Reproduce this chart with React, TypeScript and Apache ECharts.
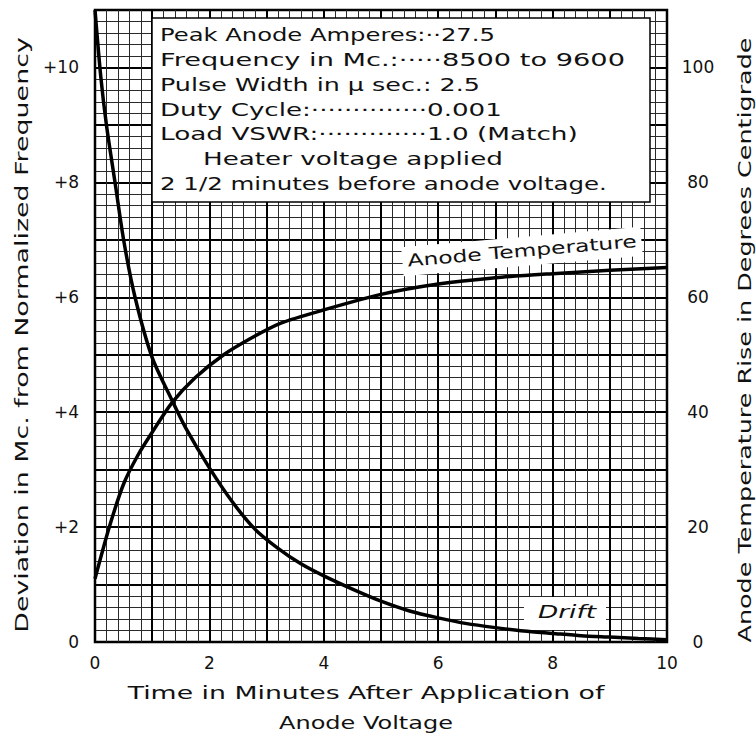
import React, { useEffect, useRef } from 'react';
import * as echarts from 'echarts';

// ---- data ----
const driftTime = [0, 0.1, 0.2, 0.35, 0.5, 0.7, 1.0, 1.35, 1.6, 2.0, 2.4, 2.8, 3.2, 3.6, 4.0, 4.5, 5.0, 5.5, 6.0, 6.5, 7.0, 7.5, 8.0, 8.5, 9.0, 9.5, 10];
const driftMc = [11.0, 9.85, 9.0, 8.0, 7.0, 6.0, 4.95, 4.2, 3.7, 3.03, 2.44, 1.96, 1.63, 1.36, 1.15, 0.92, 0.71, 0.54, 0.42, 0.32, 0.25, 0.19, 0.15, 0.11, 0.085, 0.06, 0.04];

const tempTime = [0, 0.25, 0.5, 0.75, 1.0, 1.35, 1.75, 2.25, 2.75, 3.25, 4.0, 5.0, 6.0, 7.0, 8.0, 9.0, 10];
const tempRise = [11, 20, 27.5, 32.5, 36.5, 41.7, 46, 50, 53, 55.5, 57.8, 60.5, 62.3, 63.4, 64.1, 64.7, 65.2];

const infoLines = [
  'Peak Anode Amperes:··27.5',
  'Frequency in Mc.:·····8500 to 9600',
  'Pulse Width in μ sec.: 2.5',
  'Duty Cycle:··············0.001',
  'Load VSWR:·············1.0 (Match)',
  'Heater voltage applied',
  '2 1/2 minutes before anode voltage.',
];

const leftAxisName = 'Deviation in Mc. from Normalized Frequency';
const rightAxisName = 'Anode Temperature Rise in Degrees Centigrade';
const xAxisNameLines = ['Time in Minutes After Application of', 'Anode Voltage'];
const tempLabel = 'Anode Temperature';
const driftLabel = 'Drift';

const FONT = '"DejaVu Sans", "Liberation Sans", sans-serif';
const INK = '#111';

let measureCtx: CanvasRenderingContext2D | null = null;
function measure(text: string, size: number, style = 'normal') {
  if (!measureCtx) measureCtx = document.createElement('canvas').getContext('2d');
  measureCtx!.font = `${style} normal ${size}px "DejaVu Sans"`;
  return measureCtx!.measureText(text).width;
}

function fitText(text: string, x: number, y: number, width: number, size: number, align: 'left' | 'center', rotation = 0, fontStyle = 'normal') {
  const s = width / measure(text, size, fontStyle);
  return {
    type: 'text',
    x,
    y,
    rotation,
    scaleX: s,
    z: 20,
    style: {
      text,
      fontFamily: FONT,
      fontSize: size,
      fontStyle,
      fill: INK,
      align,
      verticalAlign: 'middle',
    },
  };
}

export default function App() {
  const ref = useRef<HTMLDivElement>(null);

  useEffect(() => {
    const chart = echarts.init(ref.current!, null, { renderer: 'svg' });

    const labelStyle = { color: INK, fontFamily: FONT, fontSize: 17 };
    const gridLines = {
      axisLine: { show: false },
      axisTick: { show: false },
      axisLabel: { show: false },
      splitLine: { show: true, lineStyle: { color: '#000', width: 2 } },
      minorTick: { show: false, splitNumber: 5 },
      minorSplitLine: { show: true, lineStyle: { color: '#2a2a2a', width: 1 } },
    };

    // info box text layout: [startX, centerY, endX]
    const infoLayout = [
      [160, 35, 495],
      [160, 60, 625],
      [160, 85, 480],
      [160, 110, 502],
      [160, 134, 578],
      [203, 159, 503],
      [160, 184, 607],
    ];

    const graphics: any[] = [
      {
        type: 'rect',
        z: 1,
        shape: { x: 152, y: 18, width: 498, height: 184 },
        style: { fill: '#fff', stroke: '#000', lineWidth: 1.5 },
      },
      ...infoLines.map((t, i) => {
        const [x0, y, x1] = infoLayout[i];
        return fitText(t, x0, y, x1 - x0, 17, 'left');
      }),
      {
        type: 'rect',
        z: 1,
        x: 522,
        y: 252,
        rotation: 0.085,
        shape: { x: -120, y: -15, width: 240, height: 29 },
        style: { fill: '#fff' },
      },
      fitText(tempLabel, 522, 251, 230, 17, 'center', 0.085),
      {
        type: 'rect',
        z: 1,
        shape: { x: 524, y: 597, width: 82, height: 33 },
        style: { fill: '#fff' },
      },
      fitText(driftLabel, 567, 612, 58, 17, 'center', 0, 'italic'),
      fitText(leftAxisName, 22, 335, 596, 17, 'center', Math.PI / 2),
      fitText(rightAxisName, 745, 340, 605, 17, 'center', Math.PI / 2),
      fitText(xAxisNameLines[0], 366, 693, 477, 17, 'center'),
      fitText(xAxisNameLines[1], 366, 723, 174, 17, 'center'),
    ];

    chart.setOption({
      animation: false,
      backgroundColor: '#fff',
      grid: { left: 95, right: 89, top: 10, bottom: 94, show: true, borderColor: '#000', borderWidth: 2.5, backgroundColor: '#fff' },
      xAxis: [
        {
          type: 'value', min: 0, max: 10, interval: 2, position: 'bottom',
          axisLine: { show: false }, axisTick: { show: false }, splitLine: { show: false },
          axisLabel: { ...labelStyle, margin: 12, formatter: (v: number) => String(v) },
        },
        { type: 'value', min: 0, max: 10, interval: 1, position: 'top', ...gridLines },
      ],
      yAxis: [
        {
          type: 'value', min: 0, max: 11, interval: 2, position: 'left',
          axisLine: { show: false }, axisTick: { show: false }, splitLine: { show: false },
          axisLabel: { ...labelStyle, margin: 16, formatter: (v: number) => (v > 10.5 ? '' : v === 0 ? '0' : '+' + v) },
        },
        {
          type: 'value', min: 0, max: 110, interval: 20, position: 'right',
          axisLine: { show: false }, axisTick: { show: false }, splitLine: { show: false },
          axisLabel: { ...labelStyle, margin: 31, align: 'center', formatter: (v: number) => (v > 105 ? '' : String(v)) },
        },
        { type: 'value', min: 0, max: 11, interval: 1, position: 'left', ...gridLines },
      ],
      series: [
        {
          name: 'Drift', type: 'line', xAxisIndex: 0, yAxisIndex: 0,
          data: driftTime.map((t, i) => [t, driftMc[i]]),
          smooth: 0.25, symbol: 'none', showSymbol: false,
          lineStyle: { color: '#000', width: 3.5 }, z: 5,
        },
        {
          name: 'Anode Temperature', type: 'line', xAxisIndex: 0, yAxisIndex: 1,
          data: tempTime.map((t, i) => [t, tempRise[i]]),
          smooth: 0.25, symbol: 'none', showSymbol: false,
          lineStyle: { color: '#000', width: 3.5 }, z: 5,
        },
      ],
      graphic: graphics,
    });

    return () => chart.dispose();
  }, []);

  return <div ref={ref} style={{ position: 'absolute', left: 0, top: 0, width: 756, height: 736, background: '#fff' }} />;
}
